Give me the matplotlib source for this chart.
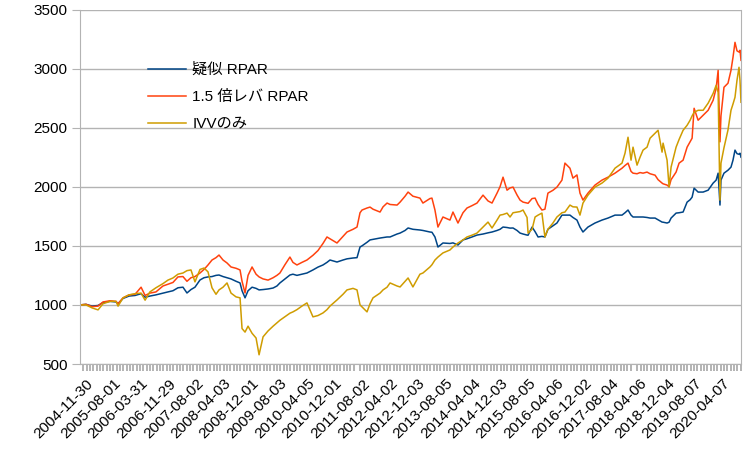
import matplotlib
matplotlib.use("Agg")
import matplotlib.pyplot as plt
from matplotlib.ticker import MultipleLocator
from matplotlib.transforms import ScaledTranslation

plt.rcParams['font.family'] = ['Liberation Sans', 'Noto Sans CJK JP', 'DejaVu Sans']

# trading-day index of each sample (0 = 2004-11-30)
day = [0, 36, 72, 108, 138, 180, 216, 228, 258, 294, 330, 366, 390, 419, 455,
       497, 527, 557, 587, 617, 641, 665, 689, 719, 743, 767, 791, 815, 833,
       857, 881, 905, 935, 959, 971, 989, 1007, 1031, 1055, 1073, 1097, 1127,
       1157, 1180, 1198, 1228, 1258, 1276, 1300, 1330, 1360, 1396, 1426, 1456,
       1480, 1498, 1540, 1576, 1600, 1636, 1660, 1678, 1690, 1720, 1738, 1756,
       1798, 1816, 1840, 1858, 1900, 1918, 1948, 1966, 1995, 2037, 2055, 2097,
       2109, 2127, 2145, 2175, 2217, 2235, 2265, 2295, 2319, 2349, 2379, 2415,
       2445, 2469, 2499, 2517, 2535, 2559, 2577, 2595, 2619, 2637, 2655, 2679,
       2685, 2709, 2727, 2745, 2768, 2786, 2804, 2834, 2858, 2888, 2906, 2936,
       2954, 2978, 2996, 3014, 3044, 3086, 3128, 3164, 3206, 3248, 3266, 3284,
       3302, 3314, 3338, 3356, 3374, 3398, 3416, 3446, 3464, 3488, 3494, 3518,
       3530, 3542, 3572, 3590, 3614, 3638, 3656, 3668, 3680, 3704, 3734, 3764,
       3794, 3812, 3824, 3835, 3841, 3859, 3883, 3901, 3913, 3925, 3937, 3949,
       3955, 3961]

rpar = [1000, 1005, 990, 995, 1020, 1030, 1025, 1010, 1055, 1075, 1080, 1095,
        1065, 1075, 1085, 1100, 1110, 1120, 1145, 1150, 1101, 1130, 1150, 1211,
        1230, 1237, 1240, 1250, 1253, 1240, 1230, 1220, 1200, 1186, 1120, 1060,
        1120, 1150, 1140, 1127, 1130, 1135, 1143, 1160, 1186, 1220, 1253, 1260,
        1250, 1260, 1270, 1296, 1320, 1338, 1360, 1380, 1363, 1380, 1390, 1397,
        1400, 1490, 1500, 1530, 1550, 1555, 1566, 1570, 1575, 1575, 1600, 1608,
        1630, 1651, 1640, 1634, 1630, 1617, 1615, 1575, 1490, 1524, 1520, 1525,
        1507, 1550, 1560, 1575, 1591, 1600, 1610, 1617, 1630, 1640, 1659, 1655,
        1650, 1651, 1630, 1608, 1600, 1591, 1590, 1659, 1620, 1575, 1580, 1575,
        1640, 1670, 1693, 1760, 1760, 1760, 1740, 1718, 1659, 1617, 1659, 1693,
        1718, 1735, 1760, 1760, 1780, 1803, 1760, 1744, 1744, 1744, 1744, 1740,
        1735, 1735, 1720, 1701, 1700, 1693, 1700, 1735, 1777, 1780, 1786, 1870,
        1890, 1912, 1988, 1955, 1955, 1971, 2031, 2056, 2115, 1845, 2056, 2115,
        2140, 2166, 2225, 2310, 2280, 2275, 2284, 2250]

rpar15 = [1000, 1005, 985, 990, 1025, 1035, 1030, 1010, 1060, 1085, 1090, 1150,
          1080, 1100, 1110, 1160, 1175, 1190, 1237, 1240, 1200, 1230, 1240, 1270,
          1300, 1338, 1380, 1400, 1422, 1380, 1355, 1321, 1310, 1296, 1200, 1101,
          1250, 1321, 1260, 1237, 1220, 1210, 1230, 1250, 1270, 1340, 1405, 1360,
          1338, 1360, 1380, 1420, 1460, 1520, 1575, 1560, 1524, 1580, 1617, 1640,
          1659, 1780, 1803, 1820, 1828, 1810, 1786, 1830, 1862, 1850, 1845, 1870,
          1920, 1955, 1920, 1904, 1862, 1900, 1904, 1803, 1659, 1744, 1718, 1786,
          1693, 1780, 1820, 1840, 1862, 1929, 1880, 1862, 1946, 2000, 2081, 1971,
          1990, 1997, 1930, 1887, 1870, 1862, 1860, 1900, 1904, 1850, 1803, 1810,
          1946, 1970, 1997, 2056, 2200, 2157, 2073, 2100, 1946, 1887, 1946, 2014,
          2056, 2081, 2115, 2157, 2180, 2200, 2130, 2115, 2110, 2120, 2115, 2124,
          2110, 2098, 2060, 2031, 2025, 2014, 2000, 2060, 2124, 2200, 2225, 2335,
          2380, 2411, 2664, 2563, 2605, 2647, 2732, 2833, 2985, 2380, 2600, 2842,
          2876, 2985, 3095, 3222, 3150, 3140, 3155, 3070]

ivv = [1000, 1000, 975, 958, 1010, 1030, 1030, 990, 1060, 1085, 1095, 1100,
       1040, 1110, 1145, 1180, 1210, 1228, 1260, 1270, 1290, 1296, 1195, 1300,
       1312, 1280, 1145, 1090, 1127, 1150, 1186, 1100, 1068, 1060, 800, 770,
       820, 760, 720, 578, 730, 780, 820, 848, 870, 900, 930, 941, 960, 990,
       1017, 899, 910, 932, 960, 990, 1042, 1090, 1127, 1140, 1127, 1000, 983,
       941, 1010, 1060, 1100, 1127, 1150, 1186, 1160, 1152, 1200, 1228, 1152,
       1260, 1270, 1321, 1340, 1380, 1405, 1440, 1465, 1490, 1524, 1550, 1575,
       1590, 1608, 1659, 1701, 1651, 1718, 1760, 1765, 1777, 1744, 1780, 1786,
       1790, 1803, 1740, 1608, 1640, 1744, 1760, 1777, 1575, 1640, 1693, 1744,
       1780, 1786, 1845, 1830, 1828, 1760, 1862, 1929, 1997, 2031, 2073, 2157,
       2200, 2284, 2419, 2225, 2335, 2183, 2250, 2310, 2335, 2411, 2453, 2478,
       2293, 2369, 2225, 1997, 2166, 2335, 2400, 2478, 2520, 2563, 2600, 2630,
       2647, 2647, 2707, 2790, 2858, 2799, 1887, 2200, 2330, 2480, 2647, 2700,
       2757, 2901, 3011, 2900, 2715]

tick_days = list(range(0, 3819, 166))
tick_labels = ['2004-11-30', '2005-08-01', '2006-03-31', '2006-11-29', '2007-08-02',
               '2008-04-03', '2008-12-01', '2009-08-03', '2010-04-05', '2010-12-01',
               '2011-08-02', '2012-04-02', '2012-12-03', '2013-08-05', '2014-04-04',
               '2014-12-03', '2015-08-05', '2016-04-06', '2016-12-02', '2017-08-04',
               '2018-04-06', '2018-12-04', '2019-08-07', '2020-04-07']

grey = '#b3b3b3'

fig = plt.figure(figsize=(7.56, 4.68), dpi=100)
ax = fig.add_axes([80 / 756, 104 / 468, 661 / 756, 354.5 / 468])

ax.plot(day, rpar, color='#004586', lw=1.1, label='疑似 RPAR')
ax.plot(day, rpar15, color='#ff420e', lw=1.1, label='1.5 倍レバ RPAR')
ax.plot(day, ivv, color='#cf9c00', lw=1.1, label='IVVのみ')

ax.set_xlim(0, 3961)
ax.set_ylim(500, 3500)
ax.set_yticks(range(500, 3501, 500))
ax.grid(axis='y', color=grey, lw=1.0)
ax.set_axisbelow(True)

for s in ax.spines.values():
    s.set_color(grey)
ax.spines['top'].set_visible(False)

ax.tick_params(axis='y', length=6, color=grey, labelsize=11, pad=3)
ax.set_xticks(tick_days)
ax.set_xticklabels(tick_labels, rotation=45, ha='right', va='top',
                   rotation_mode='anchor', fontsize=11)
ax.tick_params(axis='x', which='major', length=0, pad=9)
ax.xaxis.set_minor_locator(MultipleLocator(20))
ax.tick_params(axis='x', which='minor', length=5, width=1.4, color=grey)
for lbl in ax.get_xticklabels():
    lbl.set_transform(lbl.get_transform() + ScaledTranslation(4 / 72, 0, fig.dpi_scale_trans))

ax.legend(loc='upper left', bbox_to_anchor=(148 / 756, 1 - 63 / 468),
          bbox_transform=fig.transFigure, frameon=False, fontsize=11,
          handlelength=2.5, handletextpad=0.4, labelspacing=0.85,
          borderpad=0, borderaxespad=0)

fig.savefig('out.png', dpi=100)
